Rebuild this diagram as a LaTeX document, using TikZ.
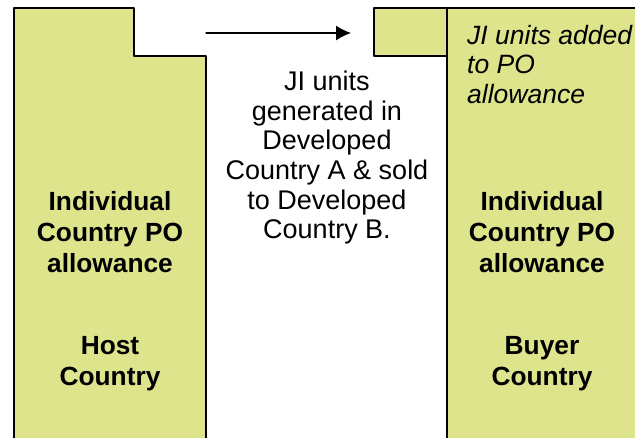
\documentclass[tikz,border=0pt]{standalone}
\usepackage{fontspec}
\setmainfont{Liberation Sans}
\usepackage{xcolor}
\usetikzlibrary{arrows.meta}
\definecolor{pogreen}{RGB}{221,228,140}
\tikzset{
  pobar/.style={fill=pogreen, draw=black, line width=1.5pt},
  boldtext/.style={anchor=north, inner sep=0pt, align=center, font=\fontsize{26.3}{31}\selectfont\bfseries},
  plaintext/.style={anchor=north, inner sep=0pt, align=center, font=\fontsize{27}{29.6}\selectfont},
  notetext/.style={anchor=north west, inner sep=0pt, align=left, font=\fontsize{26.5}{29.6}\selectfont\itshape}
}

\begin{document}
\begin{tikzpicture}[line cap=round,line join=round,x=1.0pt,y=-1.0pt]
\useasboundingbox (0,0) rectangle (635,438);
\clip (0,0) rectangle (635,438);

% host country bar with step
\draw [pobar] (14,8) -- (134,8) -- (134,56) -- (206,56) -- (206,450) -- (14,450) -- cycle;
% buyer country bar and added units
\draw [pobar] (374,8) rectangle (447,56);
\draw [pobar] (447,8) rectangle (650,450);

\node [boldtext] (hostpo) at (110,191) {Individual\\Country PO\\allowance};
\node [boldtext] (host) at (110,336) {Host\\Country};
\node [boldtext] (buyerpo) at (542,191) {Individual\\Country PO\\allowance};
\node [boldtext] (buyer) at (542,336) {Buyer\\Country};

\node [plaintext] (transfer) at (327,71) {JI units\\generated in\\Developed\\Country A \& sold\\to Developed\\Country B.};
\node [notetext] (added) at (467,25) {JI units added\\to PO\\allowance};

\coordinate (arrowstart) at (206,33);
\coordinate (arrowend) at (351,33);
\draw [-{Latex[length=15pt,width=15pt]}, line width=1.3pt] (arrowstart) -- (arrowend);
\end{tikzpicture}
\end{document}
